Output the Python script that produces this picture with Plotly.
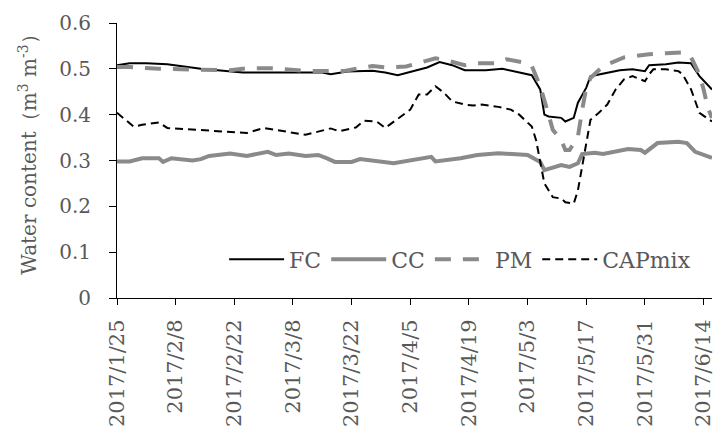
import plotly.graph_objects as go

# ---------------- data ----------------
FC_DATES = ["2017-01-25", "2017-01-28", "2017-02-01", "2017-02-06", "2017-02-10", "2017-02-14",
            "2017-02-20", "2017-02-24", "2017-03-08", "2017-03-15", "2017-03-17", "2017-03-21",
            "2017-03-27", "2017-03-30", "2017-04-02", "2017-04-05", "2017-04-09", "2017-04-12",
            "2017-04-15", "2017-04-18", "2017-04-23", "2017-04-27", "2017-05-02", "2017-05-04",
            "2017-05-06", "2017-05-07", "2017-05-08", "2017-05-11", "2017-05-12", "2017-05-14",
            "2017-05-15", "2017-05-17", "2017-05-18", "2017-05-20", "2017-05-25", "2017-05-28",
            "2017-05-31", "2017-06-01", "2017-06-05", "2017-06-08", "2017-06-11", "2017-06-13",
            "2017-06-16"]
FC_VALUES = [0.508, 0.512, 0.512, 0.510, 0.505, 0.500,
             0.495, 0.492, 0.492, 0.492, 0.488, 0.494,
             0.496, 0.492, 0.486, 0.493, 0.503, 0.515,
             0.508, 0.497, 0.497, 0.500, 0.490, 0.486,
             0.455, 0.400, 0.396, 0.393, 0.385, 0.393,
             0.426, 0.459, 0.484, 0.488, 0.497, 0.499,
             0.495, 0.508, 0.510, 0.514, 0.512, 0.484,
             0.455]

CC_DATES = ["2017-01-25", "2017-01-28", "2017-01-31", "2017-02-04", "2017-02-05", "2017-02-07",
            "2017-02-12", "2017-02-14", "2017-02-16", "2017-02-21", "2017-02-25", "2017-02-28",
            "2017-03-02", "2017-03-04", "2017-03-07", "2017-03-11", "2017-03-14", "2017-03-16",
            "2017-03-18", "2017-03-22", "2017-03-24", "2017-04-01", "2017-04-05", "2017-04-10",
            "2017-04-11", "2017-04-17", "2017-04-21", "2017-04-26", "2017-05-03", "2017-05-06",
            "2017-05-07", "2017-05-11", "2017-05-13", "2017-05-15", "2017-05-16", "2017-05-19",
            "2017-05-21", "2017-05-27", "2017-05-30", "2017-05-31", "2017-06-03", "2017-06-08",
            "2017-06-10", "2017-06-12", "2017-06-16"]
CC_VALUES = [0.298, 0.298, 0.305, 0.305, 0.297, 0.305,
             0.300, 0.303, 0.310, 0.315, 0.310, 0.316,
             0.319, 0.312, 0.315, 0.310, 0.312, 0.305,
             0.297, 0.297, 0.303, 0.294, 0.301, 0.308,
             0.298, 0.305, 0.312, 0.316, 0.312, 0.297,
             0.279, 0.290, 0.286, 0.294, 0.314, 0.317,
             0.314, 0.325, 0.323, 0.317, 0.338, 0.341,
             0.338, 0.319, 0.306]

PM_DATES = ["2017-01-25", "2017-01-28", "2017-02-04", "2017-02-14", "2017-02-21", "2017-02-25",
            "2017-03-03", "2017-03-12", "2017-03-20", "2017-03-27", "2017-03-30", "2017-04-04",
            "2017-04-06", "2017-04-11", "2017-04-13", "2017-04-18", "2017-04-20", "2017-04-25",
            "2017-04-28", "2017-05-02", "2017-05-04", "2017-05-06", "2017-05-08", "2017-05-09",
            "2017-05-11", "2017-05-12", "2017-05-13", "2017-05-15", "2017-05-16", "2017-05-17",
            "2017-05-18", "2017-05-21", "2017-05-26", "2017-05-28", "2017-06-01", "2017-06-05",
            "2017-06-09", "2017-06-11", "2017-06-13", "2017-06-14", "2017-06-15", "2017-06-16"]
PM_VALUES = [0.504, 0.504, 0.500, 0.497, 0.497, 0.501,
             0.501, 0.495, 0.495, 0.506, 0.503, 0.505,
             0.510, 0.523, 0.520, 0.508, 0.512, 0.512,
             0.521, 0.514, 0.506, 0.462, 0.400, 0.367,
             0.345, 0.323, 0.323, 0.352, 0.410, 0.459,
             0.480, 0.506, 0.525, 0.528, 0.532, 0.534,
             0.536, 0.525, 0.488, 0.455, 0.415, 0.393]

CAP_DATES = ["2017-01-25", "2017-01-29", "2017-01-31", "2017-02-04", "2017-02-06", "2017-02-14",
             "2017-02-22", "2017-02-25", "2017-03-01", "2017-03-06", "2017-03-11", "2017-03-14",
             "2017-03-17", "2017-03-19", "2017-03-23", "2017-03-25", "2017-03-28", "2017-03-30",
             "2017-04-01", "2017-04-05", "2017-04-07", "2017-04-09", "2017-04-11", "2017-04-13",
             "2017-04-15", "2017-04-18", "2017-04-20", "2017-04-22", "2017-04-26", "2017-04-29",
             "2017-05-01", "2017-05-04", "2017-05-05", "2017-05-06", "2017-05-07", "2017-05-09",
             "2017-05-11", "2017-05-12", "2017-05-14", "2017-05-15", "2017-05-16", "2017-05-17",
             "2017-05-18", "2017-05-20", "2017-05-22", "2017-05-24", "2017-05-26", "2017-05-28",
             "2017-05-31", "2017-06-01", "2017-06-02", "2017-06-05", "2017-06-08", "2017-06-09",
             "2017-06-11", "2017-06-13", "2017-06-16"]
CAP_VALUES = [0.404, 0.374, 0.378, 0.383, 0.371, 0.367,
              0.363, 0.360, 0.371, 0.363, 0.356, 0.363,
              0.370, 0.364, 0.372, 0.387, 0.385, 0.371,
              0.385, 0.411, 0.444, 0.444, 0.462, 0.448,
              0.429, 0.422, 0.420, 0.422, 0.417, 0.411,
              0.400, 0.374, 0.345, 0.294, 0.250, 0.220,
              0.217, 0.209, 0.206, 0.235, 0.286, 0.345,
              0.389, 0.404, 0.422, 0.455, 0.477, 0.484,
              0.473, 0.488, 0.499, 0.499, 0.495, 0.488,
              0.455, 0.404, 0.385]

SERIES_NAMES = ["FC", "CC", "PM", "CAPmix"]

X_TICK_DATES = ["2017-01-25", "2017-02-08", "2017-02-22", "2017-03-08", "2017-03-22", "2017-04-05",
                "2017-04-19", "2017-05-03", "2017-05-17", "2017-05-31", "2017-06-14"]
X_TICK_LABELS = ["2017/1/25", "2017/2/8", "2017/2/22", "2017/3/8", "2017/3/22", "2017/4/5",
                 "2017/4/19", "2017/5/3", "2017/5/17", "2017/5/31", "2017/6/14"]
Y_TICK_VALUES = [0, 0.1, 0.2, 0.3, 0.4, 0.5, 0.6]
Y_TICK_LABELS = ["0", "0.1", "0.2", "0.3", "0.4", "0.5", "0.6"]
X_RANGE = ["2017-01-25", "2017-06-16"]
Y_TITLE = "Water content（m<sup>3</sup> m<sup>-3</sup>）"

# ---------------- figure ----------------
FONT = "DejaVu Serif"
TEXT = "#595959"
GREY = "#8a8a8a"

fig = go.Figure()
fig.add_trace(go.Scatter(x=FC_DATES, y=FC_VALUES, name=SERIES_NAMES[0], mode="lines",
                         line=dict(color="#000000", width=2)))
fig.add_trace(go.Scatter(x=CC_DATES, y=CC_VALUES, name=SERIES_NAMES[1], mode="lines",
                         line=dict(color=GREY, width=4)))
fig.add_trace(go.Scatter(x=PM_DATES, y=PM_VALUES, name=SERIES_NAMES[2], mode="lines",
                         line=dict(color=GREY, width=4, dash="16px,12px")))
fig.add_trace(go.Scatter(x=CAP_DATES, y=CAP_VALUES, name=SERIES_NAMES[3], mode="lines",
                         line=dict(color="#000000", width=2, dash="8px,5px")))

fig.update_layout(
    width=720, height=433,
    margin=dict(l=117, r=8, t=23, b=135),
    paper_bgcolor="#ffffff", plot_bgcolor="#ffffff",
    font=dict(family=FONT, color=TEXT, size=20),
    showlegend=True,
    legend=dict(orientation="h", x=0.18, y=0.14, xanchor="left", yanchor="middle",
                font=dict(family=FONT, size=22, color=TEXT), bgcolor="rgba(0,0,0,0)",
                itemwidth=55, tracegroupgap=0),
    xaxis=dict(type="date", range=X_RANGE, tickvals=X_TICK_DATES, ticktext=X_TICK_LABELS,
               tickangle=-90, showgrid=False, zeroline=False, showline=True, automargin=False,
               linecolor="#000000", linewidth=1, ticks="outside", ticklen=6,
               tickcolor="#000000", tickwidth=1, ticklabelstandoff=6,
               tickfont=dict(family=FONT, size=21, color=TEXT)),
    yaxis=dict(range=[0, 0.6], tickvals=Y_TICK_VALUES, ticktext=Y_TICK_LABELS, automargin=False,
               showgrid=False, zeroline=False, showline=True, linecolor="#000000",
               linewidth=1, ticks="outside", ticklen=7, tickcolor="#000000", tickwidth=1,
               ticklabelstandoff=14, tickfont=dict(family=FONT, size=20, color=TEXT)),
)
fig.add_annotation(text=Y_TITLE, xref="paper", yref="paper", x=-0.151, y=0.54,
                   xanchor="center", yanchor="middle", textangle=-90, showarrow=False,
                   font=dict(family=FONT, size=20, color=TEXT))

fig.write_html("out.html")
